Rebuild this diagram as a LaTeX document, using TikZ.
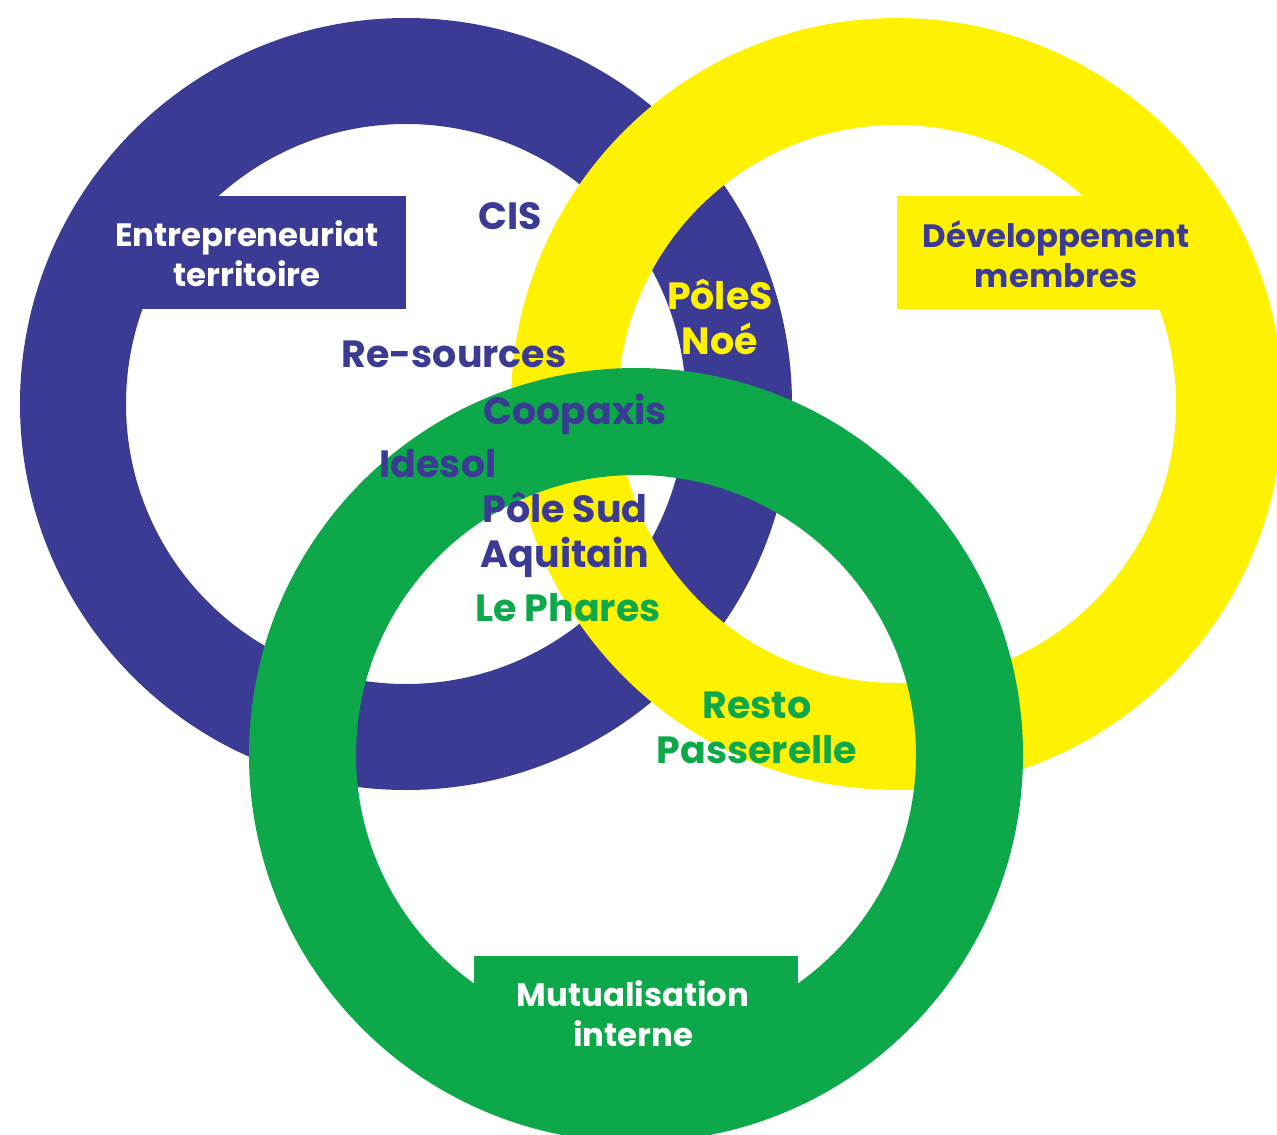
\documentclass[tikz,border=0pt]{standalone}
\usepackage{fontspec}
\setmainfont{Poppins}
\definecolor{bleu}{HTML}{3B3A94}
\definecolor{jaune}{HTML}{FFF200}
\definecolor{vert}{HTML}{0DA84A}
\tikzset{
	grand/.style={font=\fontsize{21.6}{25.6}\selectfont\bfseries,align=center,inner sep=0pt},
	titre/.style={font=\fontsize{18.4}{22.8}\selectfont\bfseries,align=center,inner sep=0pt}
}

\begin{document}
\begin{tikzpicture}[x=0.02cm,y=-0.02cm]
	\clip (0,0) rectangle (1277,1135);
	\coordinate (cb) at (406,404);
	\coordinate (cj) at (897,404);
	\coordinate (cv) at (636,755);

	% anneaux
	\fill[bleu,even odd rule] (cb) circle[radius=386] (cb) circle[radius=280];
	\fill[bleu] (120,196) rectangle (406,309);
	\fill[jaune,even odd rule] (cj) circle[radius=386] (cj) circle[radius=279];
	\fill[jaune] (897,196) rectangle (1190,309);
	\fill[vert,even odd rule] (cv) circle[radius=387] (cv) circle[radius=280];
	\fill[vert] (474,956) rectangle (798,1100);

	% titres
	\node[titre,white](entre) at (247,254) {Entrepreneuriat\\territoire};
	\node[titre,bleu](dev) at (1056,254) {Développement\\membres};
	\node[titre,white](mutu) at (633,1014) {Mutualisation\\interne};

	% structures
	\node[grand,bleu](cis) at (510,216) {CIS};
	\node[grand,bleu](res) at (454,354) {Re-sources};
	\node[grand,bleu](coop) at (575,414) {Coopaxis};
	\node[grand,bleu](ides) at (438,464) {Idesol};
	\node[grand,bleu](psa) at (565,535) {Pôle Sud\\Aquitain};
	\node[grand,vert](phares) at (568,608) {Le Phares};
	\node[grand,jaune](noe) at (720,317) {PôleS\\Noé};
	\node[grand,vert](resto) at (757,728) {Resto\\Passerelle};
\end{tikzpicture}
\end{document}
